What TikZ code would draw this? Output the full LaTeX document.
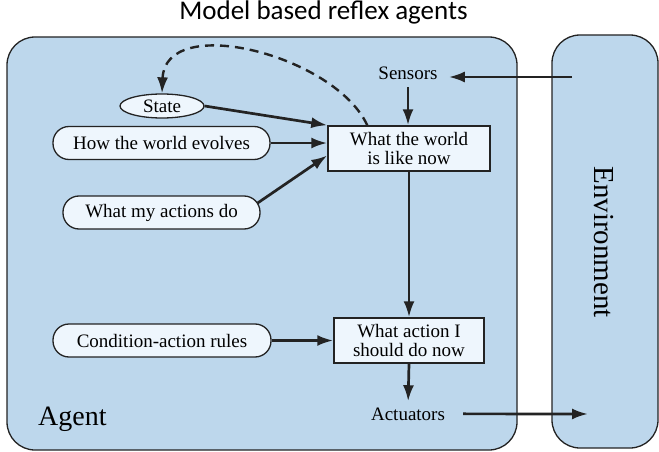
\documentclass[tikz,border=0pt]{standalone}
\usepackage{fontspec}
\setmainfont{Liberation Serif}
\newfontfamily\titlefont{Carlito}
\usetikzlibrary{arrows.meta,shapes.geometric,calc}
\definecolor{agentblue}{RGB}{189,215,236}
\definecolor{nodefill}{RGB}{238,246,253}
\definecolor{ink}{RGB}{35,35,35}
\tikzset{
  panel/.style={draw=ink, line width=1.3pt, fill=agentblue, rounded corners=28pt},
  rulebox/.style={draw=ink, line width=1.3pt, fill=nodefill, rounded corners=16pt,
    minimum height=33pt, inner sep=0pt, font=\fontsize{19}{19}\selectfont},
  statebox/.style={draw=ink, line width=1.3pt, fill=nodefill, ellipse,
    minimum width=84pt, minimum height=24pt, inner sep=0pt, font=\fontsize{19}{19}\selectfont},
  procbox/.style={draw=ink, line width=1.5pt, fill=nodefill, minimum height=45pt,
    inner sep=0pt, align=center, font=\fontsize{19}{19}\selectfont},
  plain/.style={inner sep=0pt, font=\fontsize{19}{19}\selectfont},
  flow/.style={draw=ink, line width=2.7pt, -{Latex[length=16pt,width=11pt]}},
  dflow/.style={draw=ink, line width=2.4pt, dash pattern=on 9pt off 6pt, -{Latex[length=16pt,width=11pt]}}
}
\begin{document}
\begin{tikzpicture}[x=1pt,y=-1pt]
\useasboundingbox (0,0) rectangle (659,452);
% panels
\path[panel] (7,37) rectangle (517,450);
\path[panel] (552,35) rectangle (658,448);
% title
\node[anchor=base, inner sep=0pt, font=\titlefont\fontsize{27}{27}\selectfont] (title) at (323.5,20) {Model based reflex agents};
% labels
\node[anchor=base west, inner sep=0pt, font=\fontsize{28}{28}\selectfont] (agent) at (38,425) {Agent};
\node[rotate=-90, inner sep=0pt, font=\fontsize{29}{29}\selectfont] (env) at (604,242) {Environment};
\node[plain, anchor=base] (sensors) at (408,80) {Sensors};
\node[plain, anchor=base] (act) at (408,420) {Actuators};
% nodes
\node[statebox] (state) at (162,106) {State};
\node[rulebox, minimum width=217pt] (how) at (161.5,143) {How the world evolves};
\node[rulebox, minimum width=197pt] (actions) at (161.5,212.5) {What my actions do};
\node[rulebox, minimum width=218pt] (cond) at (162,340.5) {Condition-action rules};
\node[procbox, minimum width=162pt] (world) at (409,148.5) {What the world\\is like now};
\node[procbox, minimum width=150pt] (action) at (409,340.5) {What action I\\should do now};
% free ends in the environment
\coordinate (envsens) at (572,77);
\coordinate (envact) at (588,414);
% connectors
\draw[flow, shorten >=11pt] (envsens) -- (envsens -| sensors.east);
\draw[flow, shorten <=7pt] (sensors.south) -- (sensors.south |- world.north);
\draw[flow] (state.east) -- (world.north west);
\draw[flow] (how.east) -- (how.east -| world.west);
\draw[flow] ($(actions.east)+(-3,-9.5)$) -- ($(world.west)!0.3!(world.south west)$);
\draw[flow] (world.south) -- (action.north);
\draw[flow] (cond.east) -- (cond.east -| action.west);
\draw[flow, shorten >=6pt] (action.south) -- (act.north);
\draw[flow, shorten <=18pt] (act.east) -- (envact);
\draw[dflow] ($(world.north west)+(40,0)$) .. controls (335,55) and (165,12) .. (state.north);
\end{tikzpicture}
\end{document}
